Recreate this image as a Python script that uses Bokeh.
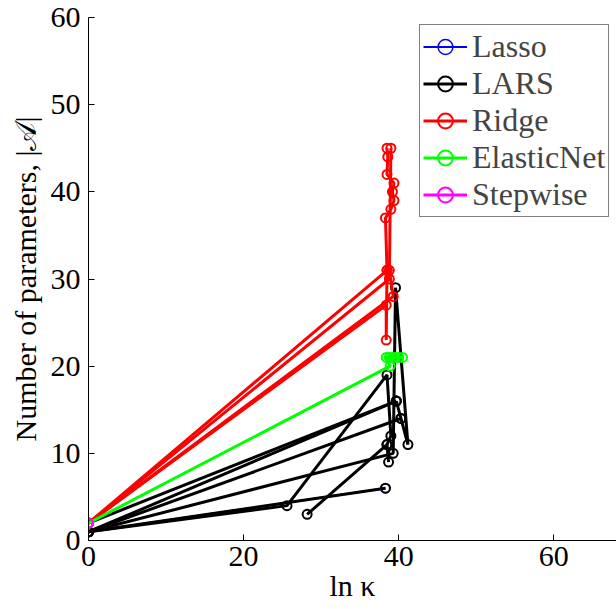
from bokeh.plotting import figure
from bokeh.models import Legend, LegendItem, Range1d, FixedTicker
from bokeh.embed import file_html
from bokeh.resources import INLINE

# ---- data (ln kappa, number of parameters) ----
lasso_x = [[0, 38.3]]
lasso_y = [[1, 6]]

lars_x = [[0, 38.3],
          [0, 25.6, 38.5, 39.0, 38.5],
          [28.2, 38.5, 38.7],
          [0, 39.3, 39.6, 41.2, 40.3, 39.7],
          [0, 39.7],
          [0, 40.3],
          [0, 39.7]]
lars_y = [[1, 6],
          [1, 4, 19, 12, 11],
          [3, 11, 9],
          [1, 10, 29, 11, 14, 16],
          [1, 16],
          [1, 14],
          [2, 16]]

ridge_x = [[0, 38.5, 38.3, 39.0, 39.4, 39.2, 39.4, 38.5, 38.6, 38.5],
           [0, 38.8, 39.0],
           [0, 39.3, 38.8],
           [0, 38.4, 38.4, 38.5]]
ridge_y = [[2, 31, 37, 38, 39, 40, 41, 42, 44, 45],
           [2, 30, 45],
           [2, 28, 31],
           [2, 27, 23, 31]]

enet_x = [[0, 38.9, 38.4, 38.8, 39.2, 39.6, 40.0, 40.5]]
enet_y = [[2, 20, 21, 21, 21, 21, 21, 21]]

step_x = [[0]]
step_y = [[2]]

methods = ["Lasso", "LARS", "Ridge", "ElasticNet", "Stepwise"]
colors = ["#0000ff", "#000000", "#ff0000", "#00ff00", "#ff00ff"]
xs_all = [lasso_x, lars_x, ridge_x, enet_x, step_x]
ys_all = [lasso_y, lars_y, ridge_y, enet_y, step_y]

x_ticks = [0, 20, 40, 60]
y_ticks = [0, 10, 20, 30, 40, 50, 60]

FONT = "'Liberation Serif', 'Times New Roman', serif"

p = figure(frame_width=528, frame_height=523,
           x_range=Range1d(0, 68.1), y_range=Range1d(0, 60),
           output_backend="svg", toolbar_location=None,
           min_border_left=88, min_border_right=0,
           min_border_top=17, min_border_bottom=69)
p.outline_line_color = None
p.grid.visible = False
p.background_fill_color = "white"

items = []
for name, col, xs, ys in zip(methods, colors, xs_all, ys_all):
    lw = 2 if name == "Lasso" else 3
    ml = p.multi_line(xs, ys, line_color=col, line_width=lw)
    fx = [v for path in xs for v in path]
    fy = [v for path in ys for v in path]
    sc = p.scatter(fx, fy, marker="circle", size=9, fill_color=None,
                   line_color=col, line_width=lw - 0.5 if name == "Lasso" else 2)
    items.append(LegendItem(label=name, renderers=[ml, sc]))

legend = Legend(items=items, location=(331, 323))
legend.label_text_font = FONT
legend.label_text_font_size = "32px"
legend.label_height = 37
legend.glyph_height = 37
legend.glyph_width = 44
legend.spacing = 0
legend.padding = 3
legend.margin = 0
legend.label_standoff = 5
legend.border_line_color = "black"
legend.border_line_width = 1
legend.background_fill_alpha = 1.0
p.add_layout(legend, "center")

for ax in (p.xaxis[0], p.yaxis[0]):
    ax.major_label_text_font = FONT
    ax.major_label_text_font_size = "30px"
    ax.axis_label_text_font = FONT
    ax.axis_label_text_font_size = "30px"
    ax.axis_label_text_font_style = "normal"
    ax.major_tick_in = 6
    ax.major_tick_out = 0
    ax.minor_tick_line_color = None
    ax.axis_line_color = "black"
    ax.major_tick_line_color = "black"
    ax.major_label_text_color = "black"
    ax.axis_label_text_color = "black"

p.xaxis[0].ticker = FixedTicker(ticks=x_ticks)
p.yaxis[0].ticker = FixedTicker(ticks=y_ticks)
p.xaxis[0].axis_label = "ln κ"
p.yaxis[0].axis_label = "Number of parameters, |𝒜|"
p.xaxis[0].major_label_standoff = 6
p.yaxis[0].major_label_standoff = 8
p.xaxis[0].axis_label_standoff = 0
p.yaxis[0].axis_label_standoff = 6

open("out.html", "w").write(file_html(p, INLINE))
